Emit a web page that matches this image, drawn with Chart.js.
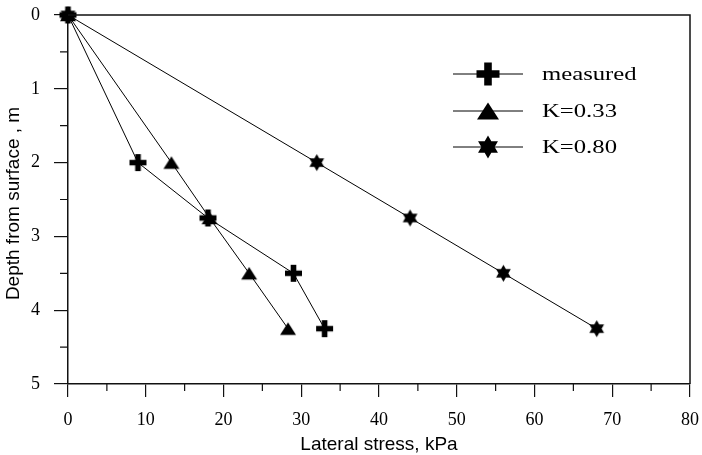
<!DOCTYPE html>
<html><head><meta charset="utf-8">
<script src="https://cdn.jsdelivr.net/npm/chart.js@4.4.0/dist/chart.umd.min.js"></script>
<style>html,body{margin:0;padding:0;background:#fff}#wrap{width:702px;height:455px}</style>
</head><body><div id="wrap"><canvas id="c" width="702" height="455"></canvas></div>
<script>
// ---- data ----
const depths = [0, 2, 2.75, 3.5, 4.25];
const measured = [0, 9, 18, 29, 33];
const k033 = [0, 13.3, 18.2, 23.3, 28.3];
const k080 = [0, 32, 44, 56, 68];
const seriesNames = ['measured', 'K=0.33', 'K=0.80'];
const xTitle = 'Lateral stress, kPa';
const yTitle = 'Depth from surface , m';

// ---- marker shapes ----
function drawShape(ctx, type, cx, cy, s) {
  ctx.fillStyle = '#000';
  ctx.beginPath();
  if (type === 'cross') {
    const t = s * 0.33;
    ctx.rect(cx - s / 2, cy - t / 2, s, t);
    ctx.rect(cx - t / 2, cy - s / 2, t, s);
  } else if (type === 'tri') {
    const h = s * 0.78;
    ctx.moveTo(cx, cy - h / 2);
    ctx.lineTo(cx + s / 2, cy + h / 2);
    ctx.lineTo(cx - s / 2, cy + h / 2);
    ctx.closePath();
  } else if (type === 'hex') {
    const r = s / 2;
    for (let k = 0; k < 2; k++) {
      const a0 = k === 0 ? -Math.PI / 2 : Math.PI / 2;
      for (let i = 0; i < 3; i++) {
        const a = a0 + i * 2 * Math.PI / 3;
        const px = cx + r * Math.cos(a), py = cy + r * Math.sin(a);
        if (i === 0) ctx.moveTo(px, py); else ctx.lineTo(px, py);
      }
      ctx.closePath();
    }
  }
  ctx.fill('nonzero');
}
function makeMarker(type, s) {
  const n = Math.ceil(s) + 2;
  const c = document.createElement('canvas');
  c.width = n; c.height = n;
  drawShape(c.getContext('2d'), type, n / 2, n / 2, s);
  return c;
}
const shapes = ['cross', 'tri', 'hex'];
const plotSizes = [17, 16, 17];
const legendSizes = [23, 22, 23];

function pts(xs) { return depths.map((d, i) => ({ x: xs[i], y: d })); }
const seriesValues = [measured, k033, k080];

const datasets = seriesValues.map((xs, i) => ({
  label: seriesNames[i],
  data: pts(xs),
  showLine: true,
  borderColor: '#000',
  borderWidth: 1,
  pointStyle: makeMarker(shapes[i], plotSizes[i]),
  pointRadius: 8,
  clip: false
}));

const decor = {
  id: 'decor',
  afterDraw(chart) {
    const ctx = chart.ctx;
    const a = chart.chartArea;
    const xs = chart.scales.x, ys = chart.scales.y;
    ctx.save();
    ctx.strokeStyle = '#111';
    ctx.lineWidth = 1.5;
    // frame top and right
    ctx.beginPath();
    ctx.moveTo(a.left, a.top); ctx.lineTo(a.right, a.top); ctx.lineTo(a.right, a.bottom);
    ctx.stroke();
    // minor ticks
    ctx.lineWidth = 1.2;
    ctx.beginPath();
    for (let v = 0.5; v < 5; v += 1) {
      const y = ys.getPixelForValue(v);
      ctx.moveTo(a.left - 8, y); ctx.lineTo(a.left, y);
    }
    for (let v = 5; v < 80; v += 10) {
      const x = xs.getPixelForValue(v);
      ctx.moveTo(x, a.bottom); ctx.lineTo(x, a.bottom + 7);
    }
    ctx.stroke();
    // axis titles
    ctx.fillStyle = '#000';
    ctx.font = '19px "Liberation Sans", Arial, sans-serif';
    ctx.textAlign = 'center';
    ctx.textBaseline = 'alphabetic';
    ctx.fillText(xTitle, (a.left + a.right) / 2, 450);
    ctx.save();
    ctx.translate(19, (a.top + a.bottom) / 2 + 4);
    ctx.rotate(-Math.PI / 2);
    ctx.fillText(yTitle, 0, 0);
    ctx.restore();
    // legend
    const rows = [74, 111, 147];
    rows.forEach((ry, i) => {
      ctx.strokeStyle = '#000';
      ctx.lineWidth = 1;
      ctx.beginPath(); ctx.moveTo(453, ry); ctx.lineTo(523, ry); ctx.stroke();
      drawShape(ctx, shapes[i], 488, ry, legendSizes[i]);
      ctx.save();
      ctx.translate(542, ry);
      ctx.scale(1.3, 1);
      ctx.font = '19px "Liberation Serif", "Times New Roman", serif';
      ctx.textAlign = 'left';
      ctx.textBaseline = 'middle';
      ctx.fillText(seriesNames[i], 0, 1);
      ctx.restore();
    });
    ctx.restore();
  }
};

function noPad(s) { s.paddingTop = 0; s.paddingBottom = 0; s.paddingLeft = 0; s.paddingRight = 0; }

new Chart(document.getElementById('c'), {
  type: 'scatter',
  data: { datasets },
  options: {
    responsive: false,
    animation: false,
    devicePixelRatio: 1,
    layout: { autoPadding: false, padding: { left: 0, right: 12, top: 15, bottom: 0 } },
    plugins: { legend: { display: false }, tooltip: { enabled: false } },
    scales: {
      x: {
        type: 'linear', min: 0, max: 80, position: 'bottom',
        ticks: { stepSize: 10, color: '#000', font: { family: '"Liberation Serif", serif', size: 18 }, padding: 12, maxRotation: 0, autoSkip: false },
        grid: { drawOnChartArea: false, drawTicks: true, tickLength: 13, color: '#111', lineWidth: 1.2 },
        border: { display: true, color: '#111', width: 1.5 },
        afterFit(s) { s.height = 71; noPad(s); }
      },
      y: {
        type: 'linear', min: 0, max: 5, reverse: true, position: 'left',
        ticks: { stepSize: 1, color: '#000', font: { family: '"Liberation Serif", serif', size: 18 }, padding: 14, autoSkip: false },
        grid: { drawOnChartArea: false, drawTicks: true, tickLength: 14, color: '#111', lineWidth: 1.2 },
        border: { display: true, color: '#111', width: 1.5 },
        afterFit(s) { s.width = 68; noPad(s); }
      }
    }
  },
  plugins: [decor]
});
</script>
</body></html>
